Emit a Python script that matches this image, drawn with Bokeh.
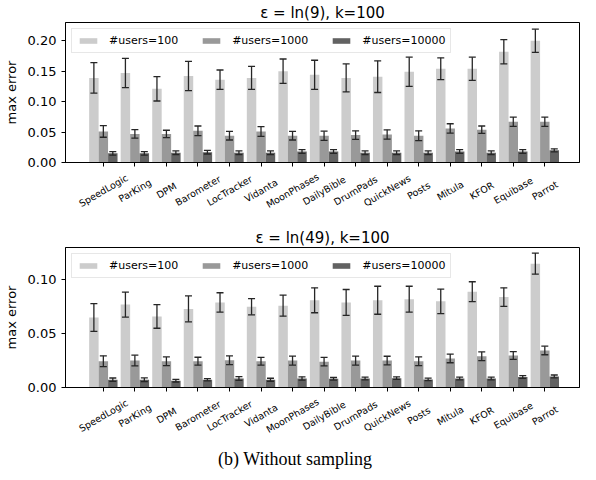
import numpy as np
from bokeh.plotting import figure
from bokeh.models import (ColumnDataSource, Range1d, FixedTicker, NumeralTickFormatter,
                          Whisker, TeeHead, Div, Legend, LegendItem)
from bokeh.core.properties import value
from bokeh.layouts import column
from bokeh.embed import file_html
from bokeh.resources import INLINE

apps = ["SpeedLogic", "ParKing", "DPM", "Barometer", "LocTracker", "Vidanta",
        "MoonPhases", "DailyBible", "DrumPads", "QuickNews", "Posts", "Mitula",
        "KFOR", "Equibase", "Parrot"]
series_names = ["#users=100", "#users=1000", "#users=10000"]

# epsilon = ln(9), k=100
top_100 = [0.139, 0.147, 0.121, 0.142, 0.136, 0.139, 0.150, 0.144, 0.139, 0.141, 0.149, 0.154, 0.154, 0.182, 0.200]
top_100_err = [0.025, 0.024, 0.020, 0.024, 0.016, 0.019, 0.020, 0.024, 0.023, 0.026, 0.024, 0.018, 0.019, 0.020, 0.019]
top_1000 = [0.051, 0.047, 0.047, 0.052, 0.044, 0.051, 0.044, 0.044, 0.045, 0.046, 0.044, 0.056, 0.054, 0.067, 0.067]
top_1000_err = [0.0095, 0.007, 0.006, 0.008, 0.007, 0.008, 0.007, 0.0075, 0.007, 0.0077, 0.008, 0.0077, 0.006, 0.0077, 0.0077]
top_10000 = [0.015, 0.015, 0.016, 0.017, 0.016, 0.016, 0.018, 0.018, 0.016, 0.016, 0.016, 0.018, 0.016, 0.018, 0.020]
top_10000_err = [0.003, 0.003, 0.003, 0.003, 0.003, 0.003, 0.003, 0.003, 0.003, 0.003, 0.003, 0.003, 0.003, 0.003, 0.0025]

# epsilon = ln(49), k=100
bot_100 = [0.065, 0.077, 0.066, 0.073, 0.079, 0.075, 0.076, 0.081, 0.079, 0.081, 0.082, 0.080, 0.089, 0.084, 0.115]
bot_100_err = [0.0128, 0.0116, 0.011, 0.012, 0.009, 0.0075, 0.0098, 0.0116, 0.012, 0.013, 0.012, 0.0114, 0.0092, 0.0086, 0.0098]
bot_1000 = [0.0244, 0.025, 0.0244, 0.0244, 0.0253, 0.0244, 0.025, 0.024, 0.025, 0.025, 0.0244, 0.027, 0.029, 0.0297, 0.0344]
bot_1000_err = [0.005, 0.005, 0.004, 0.0037, 0.004, 0.0036, 0.0042, 0.004, 0.0042, 0.004, 0.004, 0.004, 0.004, 0.0036, 0.004]
bot_10000 = [0.0072, 0.0072, 0.0063, 0.0072, 0.0084, 0.0072, 0.0084, 0.0081, 0.0084, 0.0087, 0.0075, 0.0084, 0.0084, 0.0097, 0.0103]
bot_10000_err = [0.0016, 0.0017, 0.0012, 0.001, 0.0017, 0.0014, 0.0015, 0.0012, 0.0013, 0.0012, 0.0012, 0.0013, 0.0013, 0.0013, 0.0013]

top_ticks = [0.0, 0.05, 0.10, 0.15, 0.20]
bot_ticks = [0.0, 0.05, 0.10]

colors = ["#cccccc", "#999999", "#626262"]
offsets = [-0.3, 0.0, 0.3]
FONT = "DejaVu Sans"
ERR_COLOR = "#262626"


def bar_panel(title, means, errs, ymax, yticks):
    p = figure(width=580, height=170, output_backend="svg", toolbar_location=None,
               x_range=Range1d(-1.2, 15.1), y_range=Range1d(0, ymax),
               min_border_left=62, min_border_right=1, min_border_top=0,
               min_border_bottom=8, title=title)
    p.title.align = "center"
    p.title.text_font = FONT
    p.title.text_font_size = "15px"
    p.title.text_font_style = "normal"
    p.title.text_color = "black"
    p.title.standoff = 2
    p.grid.visible = False
    p.outline_line_color = "black"
    p.outline_line_alpha = 1
    p.outline_line_width = 1
    p.background_fill_color = "white"
    p.border_fill_color = "white"

    idx = np.arange(len(apps))
    items = []
    for k in range(3):
        m = np.array(means[k])
        e = np.array(errs[k])
        src = ColumnDataSource(dict(x=idx + offsets[k], top=m, lo=m - e, hi=m + e))
        r = p.vbar(x="x", top="top", width=0.3, source=src, fill_color=colors[k],
                   line_color=None)
        items.append(LegendItem(label=series_names[k], renderers=[r]))
        wk = Whisker(base="x", lower="lo", upper="hi", source=src, level="overlay",
                     line_color=ERR_COLOR, line_width=1.3,
                     upper_head=TeeHead(size=7, line_color=ERR_COLOR, line_width=1.3),
                     lower_head=TeeHead(size=7, line_color=ERR_COLOR, line_width=1.3))
        p.add_layout(wk)

    leg = Legend(items=items, orientation="horizontal", location="top_left")
    leg.label_text_font = FONT
    leg.label_text_font_size = "11px"
    leg.label_text_color = "black"
    leg.glyph_width = 22
    leg.glyph_height = 7
    leg.spacing = 22
    leg.padding = 5
    leg.margin = 6
    leg.label_standoff = 10
    leg.border_line_color = "#d0d0d0"
    leg.background_fill_alpha = 0.85
    leg.label_height = 10
    p.add_layout(leg)

    p.yaxis.ticker = FixedTicker(ticks=yticks)
    p.yaxis.formatter = NumeralTickFormatter(format="0.00")
    p.yaxis.axis_label = "max error"
    p.yaxis.axis_label_text_font = FONT
    p.yaxis.axis_label_text_font_size = "13px"
    p.yaxis.axis_label_text_font_style = "normal"
    p.yaxis.axis_label_text_color = "black"
    p.yaxis.axis_label_standoff = 6
    p.yaxis.major_label_text_font = FONT
    p.yaxis.major_label_text_font_size = "13px"
    p.yaxis.major_label_text_color = "black"
    p.yaxis.minor_tick_line_color = None
    p.yaxis.major_tick_in = 0
    p.yaxis.major_tick_out = 4
    p.yaxis.axis_line_color = "black"
    p.yaxis.major_tick_line_color = "black"

    # x axis carries the ticks; the names are set in the strip below
    p.xaxis.ticker = FixedTicker(ticks=list(idx))
    p.xaxis.major_label_text_font_size = "0px"
    p.xaxis.major_label_text_alpha = 0
    p.xaxis.major_label_standoff = 0
    p.xaxis.minor_tick_line_color = None
    p.xaxis.major_tick_in = 0
    p.xaxis.major_tick_out = 4
    p.xaxis.axis_line_color = "black"
    p.xaxis.major_tick_line_color = "black"
    return p


def label_strip(x_range, height, label_drop):
    # category names, rotated and centred on each tick
    s = figure(width=580, height=height, output_backend="svg", toolbar_location=None,
               x_range=x_range, y_range=Range1d(-height, 0),
               x_axis_location=None, y_axis_location=None,
               min_border_left=62, min_border_right=1, min_border_top=0,
               min_border_bottom=0)
    s.grid.visible = False
    s.outline_line_color = None
    s.background_fill_color = "white"
    s.border_fill_color = "white"
    idx = np.arange(len(apps))
    src = ColumnDataSource(dict(x=idx, text=apps))
    s.text(x="x", y=-label_drop, text="text", source=src, angle=np.pi / 6,
           text_align="center", text_baseline="middle", text_font=value(FONT),
           text_font_size=value("9.5px"), text_color="black")
    return s


p1 = bar_panel("ε = ln(9), k=100", [top_100, top_1000, top_10000],
               [top_100_err, top_1000_err, top_10000_err], 0.23, top_ticks)
s1 = label_strip(p1.x_range, 55, 20)
p2 = bar_panel("ε = ln(49), k=100", [bot_100, bot_1000, bot_10000],
               [bot_100_err, bot_1000_err, bot_10000_err], 0.13, bot_ticks)
s2 = label_strip(p2.x_range, 40, 20)

caption = Div(text="(b) Without sampling", width=580, height=35,
              styles={"font-family": "Liberation Serif", "font-size": "18px",
                      "text-align": "center", "width": "580px", "padding-top": "7px",
                      "color": "black"})

layout = column(p1, s1, p2, s2, caption, spacing=0)
open("out.html", "w").write(file_html(layout, INLINE))
